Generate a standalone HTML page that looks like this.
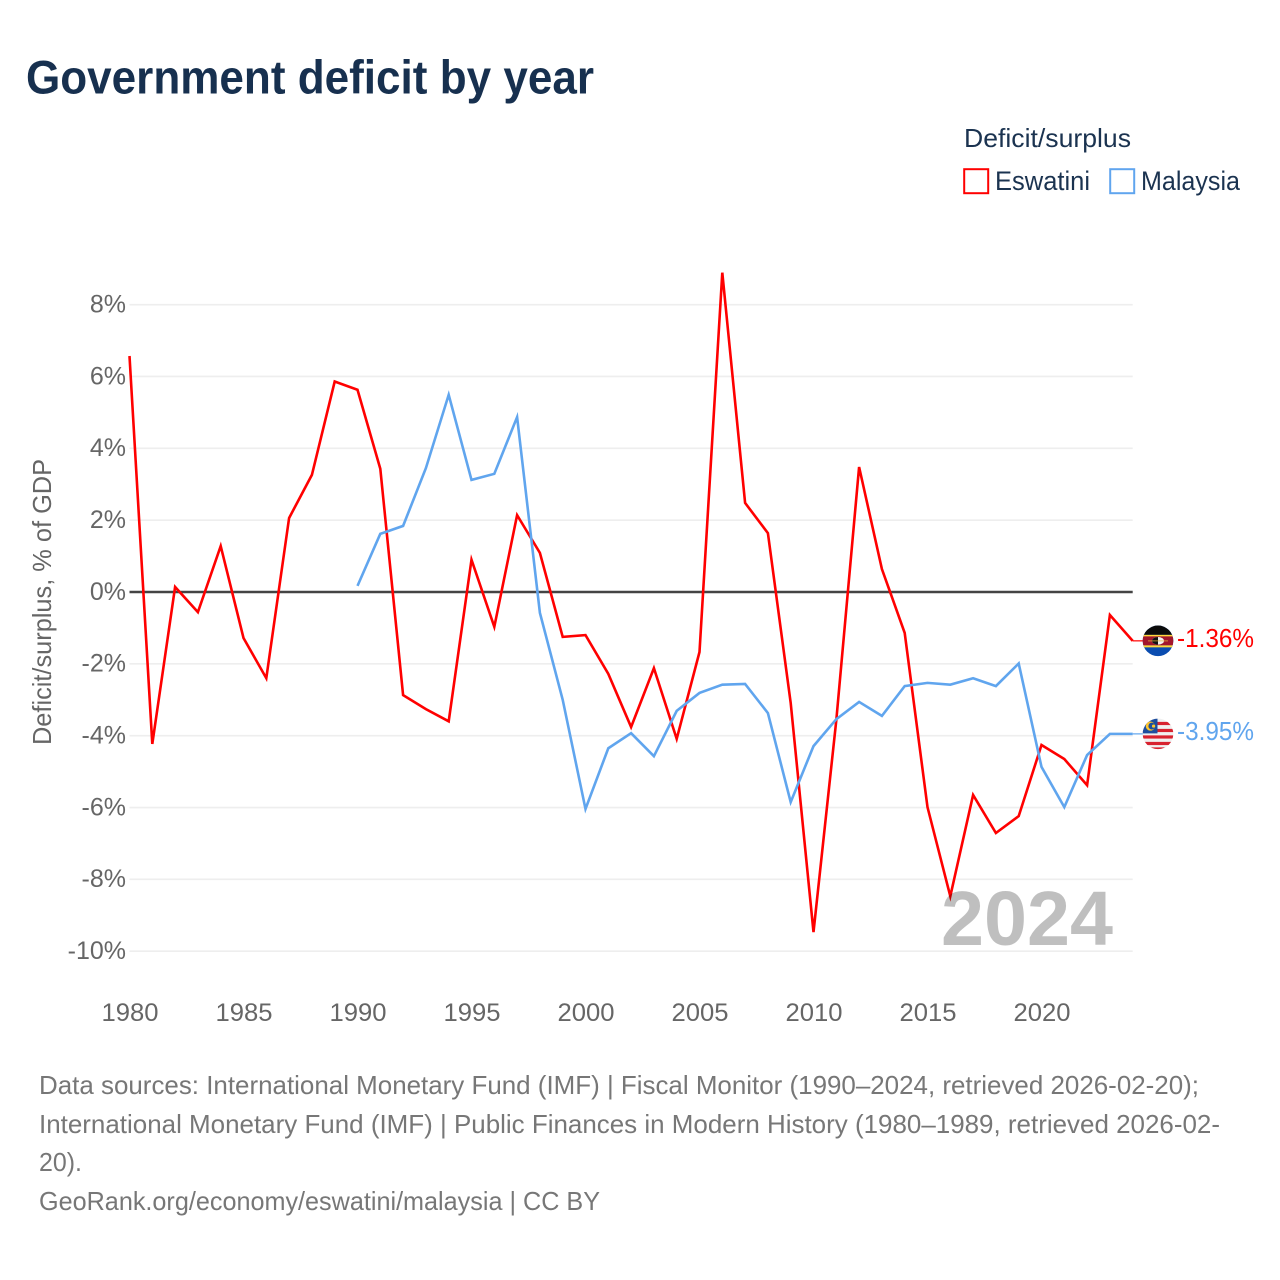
<!DOCTYPE html>
<html lang="en">
<head>
<meta charset="utf-8">
<title>Government deficit by year</title>
<style>
html,body{margin:0;padding:0;background:#fff;width:1280px;height:1280px;overflow:hidden}
svg{display:block;font-family:"Liberation Sans",sans-serif}
</style>
</head>
<body>
<svg id="chart" xmlns="http://www.w3.org/2000/svg" width="1280" height="1280" viewBox="0 0 1280 1280">
  <rect width="1280" height="1280" fill="#fff"/>
  <text x="26" y="93.5" font-size="47" font-weight="700" fill="#17304f" textLength="568" lengthAdjust="spacingAndGlyphs">Government deficit by year</text>

  <text x="964" y="147" font-size="26" fill="#1b3350" textLength="167" lengthAdjust="spacingAndGlyphs">Deficit/surplus</text>
  <g>
    <rect x="964.2" y="169.2" width="24" height="24" fill="none" stroke="#ff0000" stroke-width="2"/>
    <text x="995" y="190" font-size="27" fill="#1b3350" textLength="95" lengthAdjust="spacingAndGlyphs">Eswatini</text>
  </g>
  <g>
    <rect x="1110.2" y="169.2" width="24" height="24" fill="none" stroke="#60a5ee" stroke-width="2"/>
    <text x="1141" y="190" font-size="27" fill="#1b3350" textLength="99" lengthAdjust="spacingAndGlyphs">Malaysia</text>
  </g>

  <text transform="translate(51,745) rotate(-90)" font-size="26" fill="#666" textLength="286" lengthAdjust="spacingAndGlyphs">Deficit/surplus, % of GDP</text>

  <g id="grid"></g>
  <g id="yticks"></g>
  <g id="xticks"></g>
  <g id="series"></g>

  <defs>
    <clipPath id="flag-clip"><circle cx="0" cy="0" r="15.3"/></clipPath>
  </defs>

  <g id="end-eswatini">
    <g clip-path="url(#flag-clip)">
      <rect x="-16" y="-16" width="32" height="32" fill="#0a4cb0"/>
      <rect x="-16" y="-16" width="32" height="10" fill="#0b0b0b"/>
      <rect x="-16" y="-6" width="32" height="2" fill="#ffd83d"/>
      <rect x="-16" y="-4.5" width="32" height="9" fill="#a3162c"/>
      <rect x="-16" y="4.5" width="32" height="2" fill="#ffd83d"/>
      <ellipse cx="0" cy="0" rx="6" ry="3.8" fill="#f2f2f2"/>
      <path d="M0,-3.8 A6,3.8 0 0 0 0,3.8 Z" fill="#111"/>
      <rect x="-10" y="-0.6" width="20" height="1.2" fill="#e8b93a" opacity="0.6"/>
    </g>
  </g>
  <g id="end-malaysia">
    <g clip-path="url(#flag-clip)">
      <rect x="-16" y="-16" width="32" height="32" fill="#f0f0f0"/>
      <rect x="-16" y="-12" width="32" height="3.2" fill="#d8222f"/>
      <rect x="-16" y="-5" width="32" height="3.2" fill="#d8222f"/>
      <rect x="-16" y="1.5" width="32" height="3.2" fill="#d8222f"/>
      <rect x="-16" y="8" width="32" height="3.2" fill="#d8222f"/>
      <rect x="-16" y="13.5" width="32" height="3" fill="#d8222f"/>
      <rect x="-16" y="-16" width="15.5" height="15.5" fill="#1d4e9e"/>
      <circle cx="-7.6" cy="-7.8" r="4.6" fill="#ffc72c"/>
      <circle cx="-6.2" cy="-7.8" r="3.4" fill="#1d4e9e"/>
      <circle cx="-4.4" cy="-7.8" r="1.6" fill="#ffc72c"/>
    </g>
  </g>

  <text x="941" y="945" font-size="77" font-weight="700" fill="#000" fill-opacity="0.25" textLength="172" lengthAdjust="spacingAndGlyphs">2024</text>

  <g font-size="26" fill="#777">
    <text x="39" y="1094" textLength="1160" lengthAdjust="spacingAndGlyphs">Data sources: International Monetary Fund (IMF) | Fiscal Monitor (1990–2024, retrieved 2026-02-20);</text>
    <text x="39" y="1133" textLength="1181" lengthAdjust="spacingAndGlyphs">International Monetary Fund (IMF) | Public Finances in Modern History (1980–1989, retrieved 2026-02-</text>
    <text x="39" y="1171" textLength="43" lengthAdjust="spacingAndGlyphs">20).</text>
    <text x="39" y="1210" textLength="561" lengthAdjust="spacingAndGlyphs">GeoRank.org/economy/eswatini/malaysia | CC BY</text>
  </g>
</svg>
<script>
const yTickValues = [8, 6, 4, 2, 0, -2, -4, -6, -8, -10];
const xTickYears = [1980, 1985, 1990, 1995, 2000, 2005, 2010, 2015, 2020];
const eswatiniYears = [1980,1981,1982,1983,1984,1985,1986,1987,1988,1989,1990,1991,1992,1993,1994,1995,1996,1997,1998,1999,2000,2001,2002,2003,2004,2005,2006,2007,2008,2009,2010,2011,2012,2013,2014,2015,2016,2017,2018,2019,2020,2021,2022,2023,2024];
const eswatiniValues = [6.57,-4.23,0.14,-0.56,1.28,-1.28,-2.40,2.06,3.26,5.86,5.63,3.43,-2.87,-3.26,-3.60,0.90,-0.97,2.14,1.09,-1.25,-1.20,-2.28,-3.76,-2.12,-4.09,-1.67,8.89,2.48,1.64,-3.09,-9.47,-3.57,3.48,0.64,-1.14,-5.99,-8.47,-5.65,-6.71,-6.24,-4.26,-4.65,-5.38,-0.64,-1.36];
const malaysiaYears = [1990,1991,1992,1993,1994,1995,1996,1997,1998,1999,2000,2001,2002,2003,2004,2005,2006,2007,2008,2009,2010,2011,2012,2013,2014,2015,2016,2017,2018,2019,2020,2021,2022,2023,2024];
const malaysiaValues = [0.17,1.62,1.84,3.45,5.49,3.12,3.29,4.87,-0.58,-3.00,-6.04,-4.35,-3.93,-4.57,-3.31,-2.81,-2.58,-2.56,-3.37,-5.85,-4.29,-3.54,-3.06,-3.45,-2.62,-2.53,-2.58,-2.40,-2.62,-1.99,-4.87,-5.99,-4.54,-3.95,-3.95];

const NS = 'http://www.w3.org/2000/svg';
function xScale(year) { return 129.5 + (year - 1980) * 22.8; }
function yScale(value) { return 592 - value * 35.92; }
function make(tag, attrs, parent, text) {
  const el = document.createElementNS(NS, tag);
  for (const k in attrs) el.setAttribute(k, attrs[k]);
  if (text !== undefined) el.textContent = text;
  parent.appendChild(el);
  return el;
}

const gridGroup = document.getElementById('grid');
const yGroup = document.getElementById('yticks');
yTickValues.forEach(function (v) {
  const line = make('line', {
    x1: xScale(1980), x2: xScale(2024), y1: yScale(v), y2: yScale(v),
    stroke: v === 0 ? '#444' : '#eee', 'stroke-width': v === 0 ? 2.4 : 1.6
  }, gridGroup);
  
  
  const label = make('text', {
    x: 126, y: yScale(v) + 7.8, 'text-anchor': 'end', 'font-size': 25, fill: '#666'
  }, yGroup, v + '%');
  
  
});

const xGroup = document.getElementById('xticks');
xTickYears.forEach(function (y) {
  const label = make('text', {
    x: xScale(y) - 28, y: 1021, 'font-size': 25, fill: '#666',
    textLength: 57, lengthAdjust: 'spacingAndGlyphs'
  }, xGroup, String(y));
  
  
});

function drawSeries(years, values, color, seriesName) {
  const group = document.getElementById('series');
  const points = years.map(function (y, i) {
    return xScale(y).toFixed(2) + ',' + yScale(values[i]).toFixed(2);
  }).join(' ');
  const line = make('polyline', {
    points: points, fill: 'none', stroke: color, 'stroke-width': 2.6,
    'stroke-linejoin': 'miter', 'stroke-miterlimit': 6
  }, group);
  
  

  const last = values[values.length - 1];
  const ly = yScale(last);
  const connector = make('line', {
    x1: xScale(2024), x2: 1143, y1: ly, y2: ly, stroke: color, 'stroke-width': 1.2
  }, group);
  
  

  const marker = document.getElementById('end-' + seriesName);
  marker.querySelector('g').setAttribute('transform', 'translate(1158,' + ly.toFixed(2) + ')');
  const label = make('text', {
    x: 1177, y: ly + 6.2, 'font-size': 25.5, fill: color,
    textLength: 77, lengthAdjust: 'spacingAndGlyphs'
  }, marker, last.toFixed(2) + '%');
  
  
}

drawSeries(eswatiniYears, eswatiniValues, '#ff0000', 'eswatini');
drawSeries(malaysiaYears, malaysiaValues, '#60a5ee', 'malaysia');
</script>
</body>
</html>
